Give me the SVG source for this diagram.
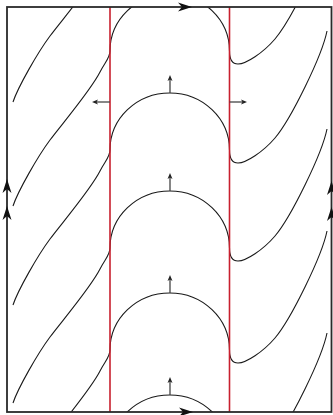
<svg xmlns="http://www.w3.org/2000/svg" xmlns:xlink="http://www.w3.org/1999/xlink" width="333" height="415" viewBox="0 0 333 415">
<style>
.stream{fill:none;stroke:#1a1a1a;stroke-width:1.1}
.red{stroke:#c8202e;stroke-width:1.6}
.frame{fill:none;stroke:#2a2a2a;stroke-width:1.8}
.ah{fill:#111}
.sm{stroke:#444;stroke-width:1.3;fill:none}
.smh{fill:#222}
</style>
<defs>
<clipPath id="box"><rect x="7" y="7" width="324.5" height="405"/></clipPath>
<path id="s" d="M13,212 C18,197 38,162 50,146 C62,130 91,96 100,78 C105,68 110,64 110,57 A59.75,57 0 0 1 229.5,57 C229.5,64 231,70 238,70 C246,70 263,59 275,45 C291,26 322,-37 327,-62"/>
<path id="big" d="M0,0 L-14,-4.5 L-10,0 L-14,4.5 Z"/>
<path id="small" d="M0,0 L-6,-2.5 L-4.5,0 L-6,2.5 Z"/>
</defs>
<rect width="333" height="415" fill="#ffffff"/>
<g id="streamlines" clip-path="url(#box)">
<use xlink:href="#s" class="stream" transform="translate(0,-110)"/>
<use xlink:href="#s" class="stream" transform="translate(0,-6)"/>
<use xlink:href="#s" class="stream" transform="translate(0,93)"/>
<use xlink:href="#s" class="stream" transform="translate(0,191)"/>
<use xlink:href="#s" class="stream" transform="translate(0,293)"/>
<use xlink:href="#s" class="stream" transform="translate(0,395)"/>
</g>
<g id="red-lines">
<line class="red" x1="110" y1="7" x2="110" y2="412"/>
<line class="red" x1="229.5" y1="7" x2="229.5" y2="412"/>
</g>
<g id="frame">
<rect class="frame" x="7" y="7" width="324.5" height="405"/>
<use xlink:href="#big" class="ah" transform="translate(192,7)"/>
<use xlink:href="#big" class="ah" transform="translate(193,412)"/>
<use xlink:href="#big" class="ah" transform="translate(7,179) rotate(-90)"/>
<use xlink:href="#big" class="ah" transform="translate(7,206) rotate(-90)"/>
<use xlink:href="#big" class="ah" transform="translate(331.5,181) rotate(-90)"/>
<use xlink:href="#big" class="ah" transform="translate(331.5,207) rotate(-90)"/>
</g>
<g id="arrows">
<line class="sm" x1="170" y1="93" x2="170" y2="78"/>
<use xlink:href="#small" class="smh" transform="translate(170,75) rotate(-90)"/>
<line class="sm" x1="170" y1="191" x2="170" y2="176"/>
<use xlink:href="#small" class="smh" transform="translate(170,173) rotate(-90)"/>
<line class="sm" x1="170" y1="293" x2="170" y2="278"/>
<use xlink:href="#small" class="smh" transform="translate(170,275) rotate(-90)"/>
<line class="sm" x1="170" y1="395" x2="170" y2="380"/>
<use xlink:href="#small" class="smh" transform="translate(170,377) rotate(-90)"/>
<line class="sm" x1="110" y1="102" x2="95" y2="102"/>
<use xlink:href="#small" class="smh" transform="translate(92,102) rotate(180)"/>
<line class="sm" x1="229.5" y1="102" x2="244" y2="102"/>
<use xlink:href="#small" class="smh" transform="translate(247,102)"/>
</g>
</svg>
